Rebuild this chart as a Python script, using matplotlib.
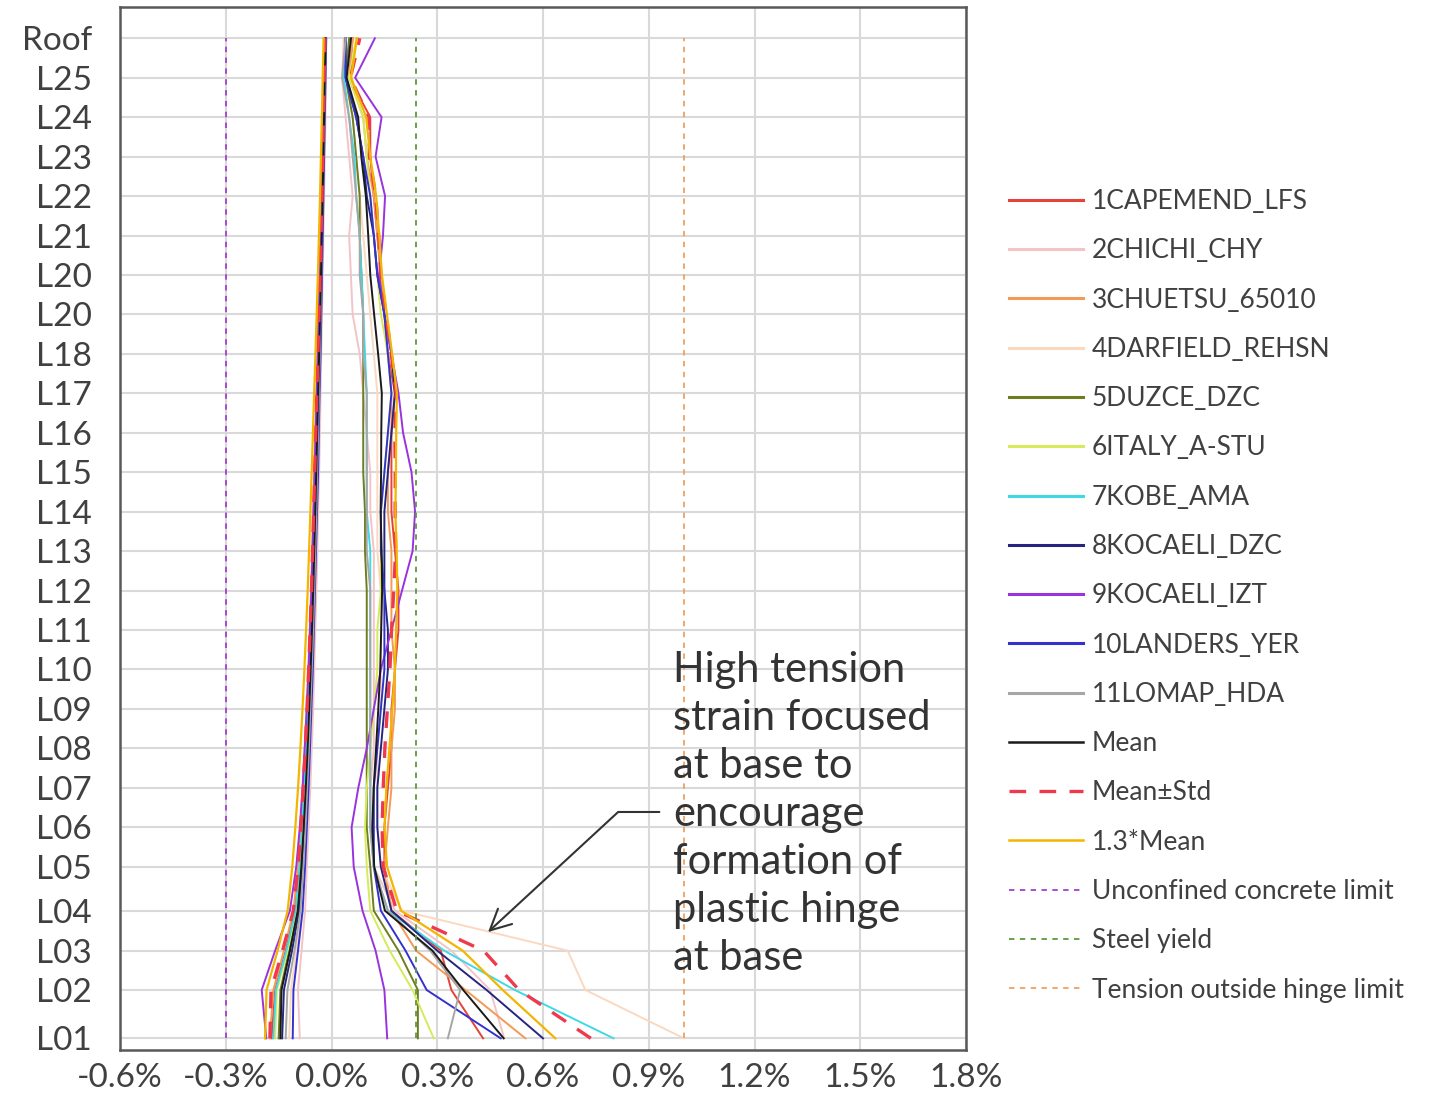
import numpy as np
import matplotlib.pyplot as plt
from matplotlib.lines import Line2D

plt.rcParams['font.family'] = ['Lato', 'DejaVu Sans']

# floor levels (bottom to top) and their elevations in m
levels = ['L01', 'L02', 'L03', 'L04', 'L05', 'L06', 'L07', 'L08', 'L09', 'L10',
          'L11', 'L12', 'L13', 'L14', 'L15', 'L16', 'L17', 'L18', 'L20', 'L20',
          'L21', 'L22', 'L23', 'L24', 'L25', 'Roof']
elev = [0.0, 3.92, 7.11, 10.35, 13.92, 17.12, 20.32, 23.52, 26.72, 29.92,
        33.12, 36.32, 39.52, 42.72, 45.92, 49.12, 52.32, 55.52, 58.72, 61.92,
        65.12, 68.32, 71.52, 74.72, 77.92, 81.12]

records = ['1CAPEMEND_LFS', '2CHICHI_CHY', '3CHUETSU_65010', '4DARFIELD_REHSN',
           '5DUZCE_DZC', '6ITALY_A-STU', '7KOBE_AMA', '8KOCAELI_DZC',
           '9KOCAELI_IZT', '10LANDERS_YER', '11LOMAP_HDA']
rec_colors = ['#e5423a', '#f2c4c8', '#f39a55', '#fbd8c0', '#6e7d1f', '#d6ea5c',
              '#3fd9e6', '#262680', '#9933dd', '#3333cc', '#a6a6a6']

# peak tension strain (%) per level, L01 -> Roof
capemend_t = [0.43, 0.34, 0.31, 0.17, 0.15, 0.15, 0.16, 0.17, 0.17, 0.18, 0.19, 0.19, 0.18,
              0.17, 0.17, 0.17, 0.18, 0.16, 0.15, 0.14, 0.13, 0.12, 0.11, 0.11, 0.05, 0.06]
chichi_t = [0.49, 0.45, 0.34, 0.18, 0.12, 0.11, 0.11, 0.12, 0.12, 0.12, 0.12, 0.12, 0.12,
            0.11, 0.11, 0.10, 0.09, 0.08, 0.06, 0.055, 0.05, 0.06, 0.05, 0.04, 0.03, 0.035]
chuetsu_t = [0.55, 0.38, 0.24, 0.17, 0.15, 0.16, 0.17, 0.17, 0.18, 0.18, 0.17, 0.17, 0.17,
             0.16, 0.16, 0.17, 0.17, 0.16, 0.15, 0.14, 0.13, 0.12, 0.10, 0.09, 0.05, 0.06]
darfield_t = [1.00, 0.72, 0.67, 0.20, 0.14, 0.13, 0.13, 0.13, 0.14, 0.14, 0.14, 0.14, 0.13,
              0.13, 0.13, 0.13, 0.13, 0.12, 0.11, 0.10, 0.09, 0.08, 0.07, 0.06, 0.04, 0.05]
duzce_t = [0.245, 0.245, 0.19, 0.12, 0.11, 0.10, 0.10, 0.10, 0.10, 0.10, 0.10, 0.10, 0.095,
           0.095, 0.09, 0.09, 0.09, 0.09, 0.09, 0.085, 0.08, 0.08, 0.07, 0.06, 0.04, 0.05]
italy_t = [0.29, 0.23, 0.165, 0.11, 0.10, 0.095, 0.10, 0.11, 0.12, 0.13, 0.13, 0.14, 0.14,
           0.14, 0.15, 0.16, 0.17, 0.16, 0.14, 0.13, 0.12, 0.11, 0.10, 0.09, 0.05, 0.07]
kobe_t = [0.80, 0.52, 0.32, 0.16, 0.12, 0.11, 0.11, 0.11, 0.11, 0.11, 0.11, 0.11, 0.11,
          0.10, 0.10, 0.10, 0.10, 0.095, 0.09, 0.085, 0.08, 0.07, 0.065, 0.05, 0.035, 0.04]
kocaeli_dzc_t = [0.60, 0.44, 0.30, 0.17, 0.14, 0.13, 0.13, 0.14, 0.15, 0.16, 0.16, 0.15, 0.15,
                 0.15, 0.16, 0.17, 0.18, 0.17, 0.15, 0.13, 0.12, 0.10, 0.09, 0.07, 0.04, 0.04]
kocaeli_izt_t = [0.158, 0.15, 0.125, 0.088, 0.063, 0.057, 0.076, 0.10, 0.12, 0.14, 0.17, 0.20, 0.23,
                 0.237, 0.227, 0.203, 0.19, 0.17, 0.15, 0.135, 0.146, 0.152, 0.125, 0.142, 0.067, 0.123]
landers_t = [0.48, 0.27, 0.21, 0.14, 0.12, 0.12, 0.12, 0.13, 0.14, 0.15, 0.15, 0.15, 0.14,
             0.14, 0.15, 0.16, 0.17, 0.16, 0.15, 0.13, 0.12, 0.11, 0.09, 0.07, 0.04, 0.04]
lomap_t = [0.33, 0.365, 0.28, 0.16, 0.12, 0.11, 0.11, 0.11, 0.11, 0.11, 0.11, 0.11, 0.10,
           0.10, 0.10, 0.10, 0.10, 0.09, 0.09, 0.08, 0.08, 0.07, 0.06, 0.05, 0.03, 0.04]

# peak compression strain (%) per level, L01 -> Roof
capemend_c = [-0.170, -0.160, -0.130, -0.105, -0.092, -0.085, -0.078, -0.073, -0.068, -0.064, -0.060, -0.056, -0.053,
              -0.050, -0.047, -0.044, -0.041, -0.038, -0.035, -0.032, -0.029, -0.026, -0.024, -0.022, -0.020, -0.018]
chichi_c = [-0.090, -0.095, -0.085, -0.075, -0.070, -0.065, -0.060, -0.056, -0.052, -0.049, -0.046, -0.043, -0.040,
            -0.038, -0.035, -0.033, -0.031, -0.029, -0.027, -0.025, -0.023, -0.021, -0.019, -0.017, -0.016, -0.015]
chuetsu_c = [-0.175, -0.165, -0.135, -0.108, -0.095, -0.088, -0.082, -0.076, -0.071, -0.066, -0.062, -0.058, -0.055,
             -0.052, -0.049, -0.046, -0.043, -0.040, -0.037, -0.034, -0.031, -0.028, -0.026, -0.024, -0.022, -0.020]
darfield_c = [-0.120, -0.115, -0.100, -0.085, -0.078, -0.072, -0.067, -0.062, -0.058, -0.054, -0.051, -0.048, -0.045,
              -0.042, -0.040, -0.037, -0.035, -0.032, -0.030, -0.028, -0.026, -0.024, -0.022, -0.020, -0.018, -0.016]
duzce_c = [-0.150, -0.145, -0.120, -0.098, -0.088, -0.081, -0.075, -0.070, -0.065, -0.061, -0.057, -0.054, -0.051,
           -0.048, -0.045, -0.042, -0.039, -0.036, -0.033, -0.030, -0.028, -0.026, -0.024, -0.022, -0.020, -0.018]
italy_c = [-0.160, -0.155, -0.125, -0.100, -0.090, -0.083, -0.077, -0.072, -0.067, -0.063, -0.059, -0.055, -0.052,
           -0.049, -0.046, -0.043, -0.040, -0.037, -0.034, -0.031, -0.028, -0.026, -0.024, -0.022, -0.020, -0.018]
kobe_c = [-0.165, -0.158, -0.128, -0.102, -0.090, -0.083, -0.077, -0.071, -0.066, -0.062, -0.058, -0.054, -0.051,
          -0.048, -0.045, -0.042, -0.039, -0.036, -0.033, -0.030, -0.027, -0.025, -0.023, -0.021, -0.019, -0.017]
kocaeli_dzc_c = [-0.140, -0.135, -0.112, -0.092, -0.083, -0.077, -0.071, -0.066, -0.062, -0.058, -0.054, -0.051, -0.048,
                 -0.045, -0.042, -0.040, -0.037, -0.034, -0.031, -0.029, -0.027, -0.025, -0.023, -0.021, -0.019, -0.017]
kocaeli_izt_c = [-0.185, -0.198, -0.160, -0.118, -0.100, -0.090, -0.082, -0.076, -0.070, -0.065, -0.061, -0.057, -0.054,
                 -0.051, -0.048, -0.045, -0.042, -0.039, -0.036, -0.033, -0.030, -0.027, -0.025, -0.023, -0.021, -0.019]
landers_c = [-0.110, -0.108, -0.095, -0.082, -0.075, -0.070, -0.065, -0.061, -0.057, -0.053, -0.050, -0.047, -0.044,
             -0.041, -0.038, -0.036, -0.034, -0.031, -0.029, -0.027, -0.025, -0.023, -0.021, -0.019, -0.017, -0.015]
lomap_c = [-0.130, -0.125, -0.105, -0.088, -0.080, -0.074, -0.069, -0.064, -0.060, -0.056, -0.052, -0.049, -0.046,
           -0.043, -0.041, -0.038, -0.036, -0.033, -0.031, -0.029, -0.027, -0.025, -0.023, -0.021, -0.019, -0.017]

tension = np.array([capemend_t, chichi_t, chuetsu_t, darfield_t, duzce_t, italy_t,
                    kobe_t, kocaeli_dzc_t, kocaeli_izt_t, landers_t, lomap_t])
compression = np.array([capemend_c, chichi_c, chuetsu_c, darfield_c, duzce_c, italy_c,
                        kobe_c, kocaeli_dzc_c, kocaeli_izt_c, landers_c, lomap_c])

# strain limits (%)
concrete_limit = -0.3
steel_yield = 0.24
hinge_limit = 1.0

# statistics over the ground motion suite
mean_t = tension.mean(axis=0)
mean_c = compression.mean(axis=0)
std_t = tension.std(axis=0, ddof=1)
std_c = compression.std(axis=0, ddof=1)

fig = plt.figure(figsize=(14.44, 10.93), dpi=100)
ax = fig.add_axes([0.0831, 0.0393, 0.5859, 0.954])

handles = []
for name, col, t, c in zip(records, rec_colors, tension, compression):
    ax.plot(t, elev, color=col, lw=1.4)
    ax.plot(c, elev, color=col, lw=1.4)
    handles.append(Line2D([], [], color=col, lw=2.2, label=name))

ax.plot(mean_t, elev, color='#1a1a1a', lw=1.4)
ax.plot(mean_c, elev, color='#1a1a1a', lw=1.4)
handles.append(Line2D([], [], color='#1a1a1a', lw=1.8, label='Mean'))

dash = (0, (5, 4))
ax.plot(mean_t + std_t, elev, color='#f0394d', lw=2.4, ls=dash)
ax.plot(mean_c - std_c, elev, color='#f0394d', lw=2.4, ls=dash)
handles.append(Line2D([], [], color='#f0394d', lw=2.4, ls=dash, label='Mean\u00b1Std'))

ax.plot(1.3 * mean_t, elev, color='#f2b600', lw=1.6)
ax.plot(1.3 * mean_c, elev, color='#f2b600', lw=1.6)
handles.append(Line2D([], [], color='#f2b600', lw=1.8, label='1.3*Mean'))

short = (0, (3, 3))
limits = [(concrete_limit, '#a040d0', 'Unconfined concrete limit'),
          (steel_yield, '#5c9a3c', 'Steel yield'),
          (hinge_limit, '#f0a060', 'Tension outside hinge limit')]
for val, col, name in limits:
    ax.plot([val, val], [elev[0], elev[-1]], color=col, lw=1.3, ls=short)
    handles.append(Line2D([], [], color=col, lw=1.3, ls=short, label=name))

# axes, ticks and grid
ax.set_xlim(-0.6, 1.8)
ax.set_ylim(-0.95, 83.63)
xt = np.arange(-0.6, 1.81, 0.3)
ax.set_xticks(xt)
ax.set_xticklabels(['{:.1f}%'.format(v) for v in xt])
ax.set_yticks(elev)
ax.set_yticklabels(levels)
ax.tick_params(axis='both', length=0, labelsize=24, labelcolor='#404040')
ax.tick_params(axis='x', pad=9)
ax.tick_params(axis='y', pad=20)
ax.grid(True, color='#d9d9d9', lw=1.5)
ax.set_axisbelow(True)
for s in ax.spines.values():
    s.set_color('#595959')
    s.set_linewidth(1.8)

# callout about the base hinge
ax.annotate('', xy=(0.444, 8.62), xytext=(0.93, 18.36),
            arrowprops=dict(arrowstyle='->,head_length=0.6,head_width=0.3',
                            color='#333333', lw=1.5, shrinkA=0, shrinkB=0,
                            mutation_scale=25,
                            connectionstyle='angle,angleA=0,angleB=42.7,rad=0'))
ax.text(0.969, 18.2, 'High tension\nstrain focused\nat base to\nencourage\nformation of\nplastic hinge\nat base',
        fontsize=30, color='#333333', va='center', ha='left', linespacing=1.32)

fig.legend(handles=handles, loc='upper left', bbox_to_anchor=(0.6985, 0.827),
           frameon=False, fontsize=19, labelcolor='#404040', handlelength=2.8,
           handletextpad=0.35, labelspacing=0.92, borderpad=0, borderaxespad=0)

plt.savefig('out.png', dpi=100)
